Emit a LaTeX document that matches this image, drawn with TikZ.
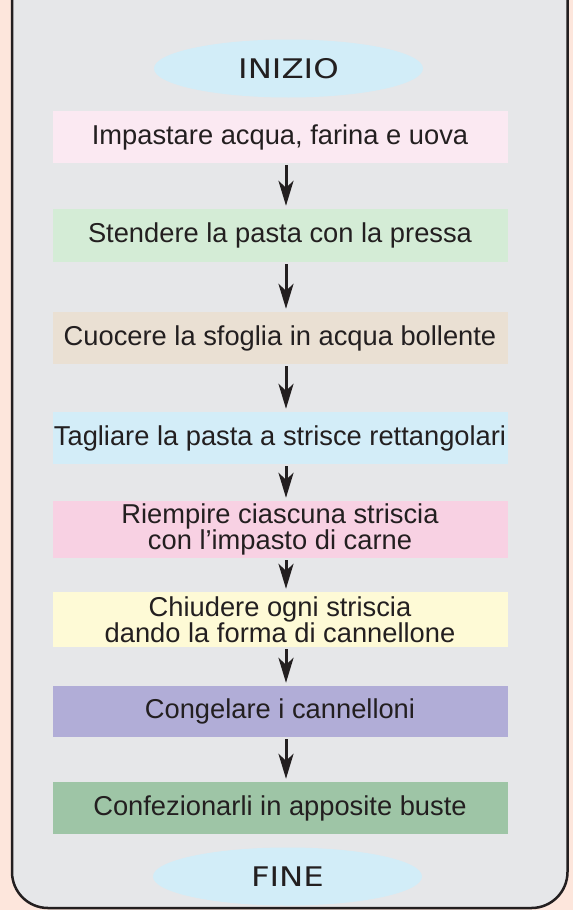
\documentclass[tikz,border=0pt]{standalone}
\usepackage{fontspec}
\setmainfont{Liberation Sans}
\newfontfamily\comicfont[FakeStretch=1.2]{DejaVu Sans}
\usetikzlibrary{arrows.meta}
\usetikzlibrary{shapes.geometric}
\definecolor{pesca}{HTML}{FDE6DC}
\definecolor{pannello}{HTML}{E6E7E9}
\definecolor{celeste}{HTML}{D2EDF8}
\definecolor{testo}{HTML}{231F20}
\definecolor{rosino}{HTML}{FBE9F2}
\definecolor{verdino}{HTML}{D4ECD6}
\definecolor{beige}{HTML}{EAE0D3}
\definecolor{azzurro}{HTML}{D3EDF8}
\definecolor{rosa}{HTML}{F8D1E3}
\definecolor{giallino}{HTML}{FEFAD6}
\definecolor{lilla}{HTML}{B1ADD7}
\definecolor{verde}{HTML}{9EC5A6}

\begin{document}
\begin{tikzpicture}[x=1pt,y=-1pt,
		passo/.style={minimum width=455pt,inner sep=0pt,align=center,text=testo,
			font=\fontsize{27.3}{25.5}\selectfont},
		capo/.style={ellipse,fill=celeste,minimum width=269pt,minimum height=58pt,
			inner sep=0pt,text=testo,font=\comicfont\fontsize{27}{27}\selectfont},
		freccia/.style={line width=3pt,draw=testo,-{Stealth[length=25pt,width=15pt,inset=7pt]}}]
			\useasboundingbox (0,0) rectangle (573,910);
			\fill[pesca] (0,0) rectangle (573,910);
			\clip (0,0) rectangle (573,910);
			\draw[line width=2.5pt,draw=testo,fill=pannello,rounded corners=36pt]
				(12,-60) -- (12,908) -- (567.5,908) -- (567.5,-60);
			
			\node[capo] (inizio) at (288.5,68.5) {INIZIO};
			\node[passo,fill=rosino,minimum height=52pt] (p1) at (280,137) {Impastare acqua, farina e uova};
			\node[passo,fill=verdino,minimum height=53pt] (p2) at (280,235.5) {Stendere la pasta con la pressa};
			\node[passo,fill=beige,minimum height=52pt] (p3) at (280,338) {Cuocere la sfoglia in acqua bollente};
			\node[passo,fill=azzurro,minimum height=52pt] (p4) at (280,438) {Tagliare la pasta a strisce rettangolari};
			\node[passo,fill=rosa,minimum height=57pt] (p5) at (280,529.5) {Riempire ciascuna striscia\\con l'impasto di carne};
			\node[passo,fill=giallino,minimum height=55pt] (p6) at (280,619.5) {Chiudere ogni striscia\\dando la forma di cannellone};
			\node[passo,fill=lilla,minimum height=51pt] (p7) at (280,711.5) {Congelare i cannelloni};
			\node[passo,fill=verde,minimum height=52pt] (p8) at (280,808) {Confezionarli in apposite buste};
			\node[capo] (fine) at (287.5,876.5) {FINE};
			
			% frecce tra i passi
			\foreach \a/\b in {p1/p2,p2/p3,p3/p4,p4/p5,p5/p6,p6/p7,p7/p8}
				\draw[freccia] ([xshift=6pt,yshift=-2pt]\a.south) -- ([xshift=6pt,yshift=3pt]\b.north);
		\end{tikzpicture}
\end{document}
